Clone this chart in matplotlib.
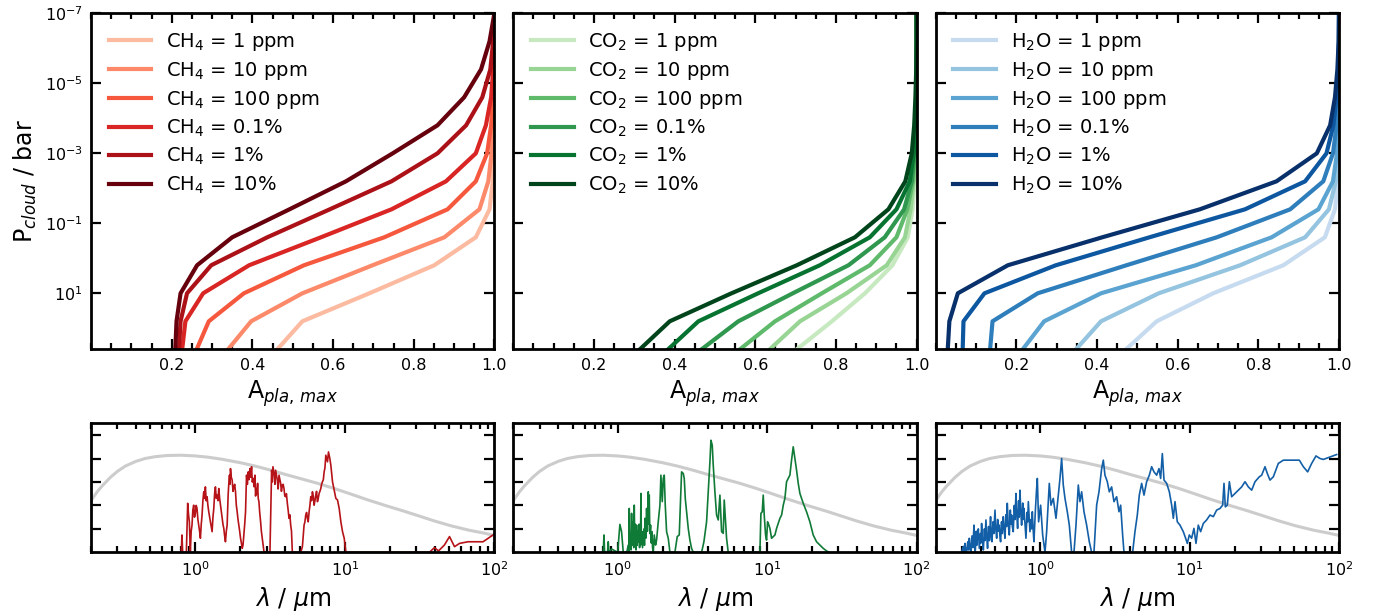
import numpy as np
import matplotlib
matplotlib.use('Agg')
import matplotlib.pyplot as plt
from matplotlib.ticker import FixedLocator, NullLocator, NullFormatter, MultipleLocator, LogLocator

# Cloud-top pressure grid (bar), shared by all curves
pressure = [398, 63.1, 10.0, 1.58, 0.251, 0.0398, 6.31e-3, 1.0e-3,
            1.58e-4, 2.51e-5, 3.98e-6, 6.31e-7, 1.0e-7]

abund_labels = ['1 ppm', '10 ppm', '100 ppm', '0.1%', '1%', '10%']

# Maximum planetary albedo at each pressure level (1 ppm ... 10%)
ch4_albedo = [
    [0.462, 0.524, 0.690, 0.851, 0.954, 0.988, 0.996, 0.998, 0.999, 1.0, 1.0, 1.0, 1.0],
    [0.340, 0.397, 0.524, 0.698, 0.876, 0.963, 0.985, 0.993, 0.998, 0.999, 1.0, 1.0, 1.0],
    [0.262, 0.292, 0.379, 0.528, 0.727, 0.884, 0.954, 0.982, 0.992, 0.997, 0.999, 1.0, 1.0],
    [0.226, 0.234, 0.278, 0.392, 0.570, 0.745, 0.880, 0.954, 0.979, 0.992, 0.997, 0.999, 1.0],
    [0.218, 0.222, 0.238, 0.298, 0.437, 0.592, 0.745, 0.859, 0.930, 0.970, 0.990, 0.997, 1.0],
    [0.209, 0.212, 0.222, 0.263, 0.350, 0.492, 0.632, 0.748, 0.859, 0.925, 0.967, 0.988, 1.0],
]
co2_albedo = [
    [0.703, 0.790, 0.872, 0.940, 0.978, 0.990, 0.995, 0.998, 0.999, 1.0, 1.0, 1.0, 1.0],
    [0.636, 0.711, 0.826, 0.926, 0.971, 0.985, 0.993, 0.997, 0.999, 1.0, 1.0, 1.0, 1.0],
    [0.562, 0.649, 0.765, 0.884, 0.950, 0.977, 0.991, 0.996, 0.998, 0.999, 1.0, 1.0, 1.0],
    [0.467, 0.558, 0.693, 0.831, 0.921, 0.969, 0.988, 0.995, 0.998, 0.999, 1.0, 1.0, 1.0],
    [0.384, 0.459, 0.607, 0.760, 0.884, 0.950, 0.983, 0.993, 0.997, 0.999, 1.0, 1.0, 1.0],
    [0.314, 0.388, 0.541, 0.703, 0.847, 0.930, 0.972, 0.988, 0.994, 0.997, 0.999, 1.0, 1.0],
]
h2o_albedo = [
    [0.472, 0.548, 0.688, 0.862, 0.965, 0.990, 0.997, 0.999, 1.0, 1.0, 1.0, 1.0, 1.0],
    [0.348, 0.410, 0.553, 0.755, 0.916, 0.975, 0.992, 0.997, 0.999, 1.0, 1.0, 1.0, 1.0],
    [0.216, 0.269, 0.410, 0.645, 0.833, 0.949, 0.985, 0.995, 0.998, 1.0, 1.0, 1.0, 1.0],
    [0.135, 0.141, 0.253, 0.473, 0.697, 0.879, 0.961, 0.985, 0.994, 0.998, 1.0, 1.0, 1.0],
    [0.067, 0.069, 0.121, 0.298, 0.530, 0.767, 0.916, 0.969, 0.986, 0.994, 0.998, 1.0, 1.0],
    [0.030, 0.034, 0.055, 0.179, 0.413, 0.655, 0.845, 0.945, 0.978, 0.990, 0.996, 0.999, 1.0],
]

# Stellar spectrum (arbitrary units), same in every lower panel
star_wl = [0.2, 0.21, 0.22, 0.235, 0.25, 0.27, 0.3, 0.34, 0.4, 0.46, 0.54, 0.65,
           0.8, 1.0, 1.2, 1.5, 2.0, 2.5, 3.2, 4.0, 5.0, 6.5, 8.5, 11, 14, 19,
           25, 32, 40, 52, 68, 85, 100]
star_flux = [2.2, 2.4, 2.58, 2.8, 2.98, 3.2, 3.45, 3.68, 3.88, 4.0, 4.08, 4.13,
             4.14, 4.11, 4.06, 3.97, 3.82, 3.68, 3.5, 3.32, 3.15, 2.95, 2.72, 2.48,
             2.25, 1.98, 1.75, 1.53, 1.33, 1.12, 0.94, 0.82, 0.72]

# Absorption spectra: (wavelength in um, arbitrary units)
ch4_spec = [
    (0.804, 0.0), (0.812, 0.74), (0.821, 0.0), (0.869, 0.0), (0.887, 2.09),
    (0.899, 1.6), (0.910, 1.30), (0.924, 0.03), (0.936, 0.9), (0.948, 1.16),
    (0.960, 1.8), (0.973, 2.01), (0.985, 1.5), (0.998, 1.66), (1.011, 2.0),
    (1.024, 1.87), (1.038, 1.4), (1.051, 1.16), (1.065, 0.9), (1.079, 0.60),
    (1.093, 1.2), (1.107, 1.59), (1.121, 2.2), (1.136, 2.58), (1.150, 2.3),
    (1.165, 2.79), (1.180, 2.2), (1.196, 2.37), (1.211, 2.0), (1.227, 1.73),
    (1.243, 1.5), (1.259, 1.30), (1.275, 1.1), (1.292, 0.88), (1.309, 1.5),
    (1.326, 1.87), (1.343, 2.5), (1.360, 2.79), (1.378, 2.3), (1.396, 2.44),
    (1.414, 2.2), (1.432, 2.72), (1.451, 2.3), (1.470, 2.01), (1.489, 1.7),
    (1.508, 1.45), (1.527, 1.2), (1.547, 1.02), (1.567, 0.7), (1.587, 0.45),
    (1.608, 0.9), (1.629, 1.16), (1.654, 2.44), (1.670, 2.9), (1.689, 3.29),
    (1.700, 2.9), (1.715, 3.57), (1.737, 3.2), (1.760, 3.08), (1.783, 2.6),
    (1.806, 2.79), (1.830, 2.9), (1.853, 2.58), (1.877, 2.0), (1.901, 1.73),
    (1.926, 1.4), (1.951, 1.16), (1.976, 0.9), (2.002, 0.60), (2.028, 0.4),
    (2.054, 0.17), (2.080, 0.3), (2.108, 0.74), (2.135, 1.2), (2.163, 1.73),
    (2.196, 3.29), (2.225, 2.9), (2.254, 3.43), (2.283, 3.1), (2.313, 3.57),
    (2.343, 3.2), (2.373, 3.65), (2.400, 3.0), (2.435, 3.15), (2.465, 2.8),
    (2.498, 3.29), (2.525, 2.4), (2.550, 2.72), (2.578, 2.5), (2.604, 2.94),
    (2.630, 2.3), (2.658, 2.16), (2.690, 1.7), (2.728, 1.30), (2.760, 0.9),
    (2.799, 0.60), (2.835, 0.3), (2.872, 0.03), (2.947, 0.0), (3.150, 0.0),
    (3.232, 3.50), (3.265, 3.0), (3.300, 3.65), (3.335, 3.45), (3.369, 3.29),
    (3.400, 2.9), (3.439, 3.50), (3.480, 3.3), (3.529, 3.08), (3.575, 2.7),
    (3.621, 3.29), (3.670, 3.1), (3.715, 2.94), (3.760, 2.6), (3.812, 2.87),
    (3.860, 2.9), (3.911, 2.72), (3.960, 2.4), (4.013, 2.37), (4.060, 2.5),
    (4.118, 2.09), (4.170, 1.8), (4.225, 1.45), (4.280, 1.6), (4.336, 1.16),
    (4.390, 0.9), (4.449, 0.0), (5.062, 0.0), (5.193, 0.24), (5.329, 1.16),
    (5.400, 1.3), (5.468, 1.59), (5.540, 1.7), (5.610, 1.45), (5.680, 1.3),
    (5.759, 1.73), (5.830, 2.0), (5.908, 2.37), (5.980, 2.2), (6.062, 2.58),
    (6.140, 2.4), (6.220, 2.01), (6.300, 2.2), (6.383, 2.44), (6.460, 2.6),
    (6.549, 2.16), (6.630, 2.3), (6.720, 2.51), (6.800, 2.6), (6.895, 2.72),
    (6.980, 2.9), (7.075, 3.01), (7.170, 3.1), (7.260, 3.43), (7.350, 3.6),
    (7.449, 4.14), (7.644, 3.86), (7.762, 4.28), (7.925, 4.00), (8.048, 3.72),
    (8.258, 3.01), (8.474, 2.65), (8.695, 2.30), (8.923, 2.23), (9.155, 1.87),
    (9.394, 1.30), (9.639, 0.88), (9.890, 0.60), (10.15, 0.0), (36.8, 0.0),
    (39.7, 0.20), (42.3, 0.06), (46.3, 0.31), (50.1, 0.67), (54.1, 0.24),
    (58.5, 0.38), (66.5, 0.45), (84.0, 0.45), (99.5, 0.77),
]

co2_spec = [
    (0.800, 0.0), (0.809, 0.74), (0.817, 0.0), (0.855, 0.0), (0.864, 0.45),
    (0.873, 0.0), (0.910, 0.14), (1.000, 0.0), (1.008, 0.31), (1.034, 1.19),
    (1.061, 0.88), (1.089, 0.0), (1.150, 0.0), (1.175, 0.3), (1.185, 0.0),
    (1.194, 1.87), (1.205, 0.2), (1.219, 0.60), (1.228, 0.1), (1.238, 1.66),
    (1.250, 0.3), (1.260, 0.9), (1.270, 1.30), (1.280, 0.2), (1.290, 2.01),
    (1.300, 0.4), (1.310, 1.2), (1.317, 0.74), (1.327, 0.1), (1.337, 1.16),
    (1.350, 0.3), (1.360, 0.9), (1.372, 0.45), (1.390, 1.2), (1.400, 0.2),
    (1.408, 0.74), (1.420, 0.3), (1.430, 2.51), (1.440, 0.5), (1.452, 0.88),
    (1.465, 0.2), (1.482, 0.60), (1.500, 1.0), (1.510, 0.3), (1.521, 1.45),
    (1.540, 0.6), (1.560, 1.87), (1.580, 0.9), (1.601, 2.58), (1.612, 1.2),
    (1.625, 2.44), (1.640, 0.8), (1.659, 1.16), (1.675, 0.4), (1.694, 0.88),
    (1.710, 0.2), (1.729, 0.0), (1.756, 0.74), (1.792, 0.31), (1.820, 0.52),
    (1.867, 1.30), (1.916, 2.01), (1.945, 3.29), (1.986, 2.16), (2.017, 3.15),
    (2.048, 3.29), (2.080, 2.01), (2.123, 0.88), (2.178, 0.60), (2.235, 0.0),
    (2.413, 0.0), (2.502, 0.67), (2.580, 0.74), (2.634, 2.30), (2.675, 3.43),
    (2.745, 3.36), (2.787, 3.15), (2.831, 2.30), (2.888, 1.73), (2.964, 1.02),
    (3.041, 0.52), (3.120, 0.17), (3.201, 0.0), (3.640, 0.0), (3.773, 0.45),
    (3.931, 1.30), (4.034, 2.58), (4.139, 3.86), (4.204, 4.78), (4.290, 4.57),
    (4.356, 3.72), (4.470, 2.58), (4.586, 1.59), (4.706, 1.38), (4.828, 2.44),
    (4.955, 0.88), (5.082, 0.81), (5.161, 2.23), (5.267, 1.30), (5.349, 0.60),
    (5.488, 0.0), (8.941, 0.0), (9.080, 1.66), (9.268, 1.73), (9.410, 2.44),
    (9.557, 1.59), (9.755, 0.74), (9.906, 0.52), (10.06, 1.30), (10.27, 1.16),
    (10.43, 1.02), (10.70, 0.60), (10.98, 0.67), (11.27, 0.74), (11.56, 1.02),
    (11.86, 1.23), (12.17, 1.45), (12.49, 1.59), (12.81, 2.01), (13.14, 2.30),
    (13.48, 3.01), (13.83, 3.15), (14.19, 3.29), (14.56, 3.93), (14.94, 4.50),
    (15.33, 4.00), (15.73, 3.50), (16.14, 2.94), (16.56, 2.51), (17.43, 2.09),
    (18.34, 1.73), (19.31, 1.30), (20.32, 0.74), (21.40, 0.45), (22.52, 0.31),
    (23.71, 0.17), (24.96, 0.06), (26.01, 0.0),
]

h2o_spec = [
    (0.298, 0.0), (0.306, 0.25), (0.310, 0.0), (0.314, 0.38), (0.318, 0.05),
    (0.322, 0.0), (0.328, 0.45), (0.332, 0.1), (0.336, 0.60), (0.340, 0.15),
    (0.344, 0.0), (0.350, 0.7), (0.355, 0.2), (0.361, 1.16), (0.364, 0.3),
    (0.368, 0.0), (0.374, 0.9), (0.377, 0.3), (0.380, 0.60), (0.386, 1.0),
    (0.392, 0.17), (0.399, 0.8), (0.402, 0.4), (0.406, 1.23), (0.411, 0.5),
    (0.417, 0.10), (0.424, 1.0), (0.428, 0.5), (0.434, 1.38), (0.440, 0.6),
    (0.445, 0.17), (0.452, 1.1), (0.458, 0.5), (0.466, 1.52), (0.471, 0.7),
    (0.476, 0.45), (0.484, 1.3), (0.490, 0.8), (0.499, 1.80), (0.505, 1.0),
    (0.512, 0.60), (0.520, 1.4), (0.526, 0.9), (0.533, 1.16), (0.538, 0.7),
    (0.544, 0.45), (0.552, 1.3), (0.558, 0.8), (0.567, 1.52), (0.574, 1.0),
    (0.582, 0.60), (0.590, 1.6), (0.596, 1.1), (0.603, 2.09), (0.612, 1.2),
    (0.622, 0.74), (0.632, 1.8), (0.638, 1.2), (0.645, 1.59), (0.652, 1.1),
    (0.661, 0.88), (0.672, 2.0), (0.680, 1.4), (0.689, 2.51), (0.698, 1.6),
    (0.707, 1.02), (0.718, 2.2), (0.725, 1.5), (0.733, 2.65), (0.742, 1.8),
    (0.752, 1.16), (0.765, 2.1), (0.772, 1.4), (0.780, 1.87), (0.792, 1.2),
    (0.804, 0.60), (0.818, 1.7), (0.826, 1.3), (0.834, 2.16), (0.845, 1.5),
    (0.855, 0.88), (0.870, 1.4), (0.878, 1.0), (0.887, 1.73), (0.898, 1.0),
    (0.909, 0.45), (0.930, 1.8), (0.945, 2.6), (0.958, 3.15), (0.977, 1.30),
    (1.008, 2.01), (1.040, 0.74), (1.078, 0.0), (1.106, 0.88), (1.152, 2.94),
    (1.182, 2.01), (1.225, 2.30), (1.277, 1.45), (1.324, 2.44), (1.358, 3.15),
    (1.393, 4.00), (1.429, 2.87), (1.467, 2.30), (1.520, 1.73), (1.568, 1.16),
    (1.625, 0.0), (1.685, 0.0), (1.738, 1.16), (1.801, 2.87), (1.848, 2.16),
    (1.896, 2.58), (1.966, 1.73), (2.048, 1.16), (2.134, 0.45), (2.212, 0.0),
    (2.293, 0.0), (2.389, 2.01), (2.477, 2.58), (2.581, 3.57), (2.648, 3.93),
    (2.716, 3.29), (2.816, 3.01), (2.904, 2.58), (3.010, 2.79), (3.120, 2.16),
    (3.251, 2.37), (3.371, 1.73), (3.459, 2.01), (3.566, 0.74), (3.641, 0.0),
    (4.160, 0.0), (4.312, 0.88), (4.471, 1.59), (4.610, 2.44), (4.780, 2.94),
    (4.955, 2.44), (5.163, 3.01), (5.381, 3.29), (5.577, 3.65), (5.781, 3.43),
    (6.023, 3.29), (6.244, 3.57), (6.406, 3.15), (6.573, 4.21), (6.745, 3.08),
    (7.028, 2.94), (7.323, 2.58), (7.591, 2.01), (7.788, 1.45), (7.991, 2.16),
    (8.279, 1.30), (8.627, 1.16), (9.081, 0.88), (9.414, 0.60), (9.659, 0.38),
    (9.961, 0.74), (10.32, 0.60), (10.70, 1.02), (11.04, 0.38), (11.44, 1.16),
    (11.86, 0.88), (12.36, 1.23), (13.01, 1.38), (13.70, 1.59), (14.42, 1.52),
    (15.18, 1.80), (15.98, 1.87), (16.65, 2.01), (17.00, 2.94), (17.35, 1.94),
    (17.89, 2.01), (18.46, 3.01), (19.13, 2.37), (20.14, 2.51), (21.20, 2.65),
    (22.32, 2.79), (23.50, 3.01), (24.73, 2.79), (26.04, 2.65), (27.41, 3.01),
    (29.30, 3.22), (30.38, 3.29), (31.98, 3.65), (33.14, 3.36), (34.53, 3.08),
    (36.35, 3.22), (39.26, 3.79), (42.42, 3.93), (46.99, 3.93), (54.27, 3.93),
    (57.71, 3.65), (61.69, 3.43), (65.61, 3.79), (70.15, 4.11), (74.61, 4.00),
    (78.53, 3.96), (84.82, 4.04), (96.45, 4.17),
]

panels = [
    ('CH$_4$', ch4_albedo, ch4_spec, plt.cm.Reds),
    ('CO$_2$', co2_albedo, co2_spec, plt.cm.Greens),
    ('H$_2$O', h2o_albedo, h2o_spec, plt.cm.Blues),
]

fig = plt.figure(figsize=(13.79, 6.13), dpi=100)

lefts = [0.066, 0.3722, 0.6785]
width = 0.2925


def style_axis(ax):
    for sp in ax.spines.values():
        sp.set_linewidth(2)
    ax.tick_params(which='both', direction='in', top=True, right=True,
                   width=1.6, labelsize=11.5, pad=6)
    ax.tick_params(which='major', length=7)
    ax.tick_params(which='minor', length=4)


for i, (gas, albedo, spec, cmap) in enumerate(panels):
    colors = cmap(np.linspace(0.25, 1.0, 6))

    # Upper panel: cloud pressure vs max albedo
    ax = fig.add_axes([lefts[i], 0.4302, width, 0.548])
    for j, curve in enumerate(albedo):
        ax.plot(curve, pressure, color=colors[j], lw=3,
                label=gas + ' = ' + abund_labels[j])
    ax.set_yscale('log')
    ax.set_ylim(10 ** 2.6, 1e-7)
    ax.set_xlim(0, 1)
    ax.yaxis.set_major_locator(FixedLocator([1e-7, 1e-5, 1e-3, 1e-1, 1e1]))
    ax.yaxis.set_minor_locator(NullLocator())
    ax.xaxis.set_major_locator(FixedLocator([0.2, 0.4, 0.6, 0.8, 1.0]))
    ax.xaxis.set_minor_locator(MultipleLocator(0.05))
    style_axis(ax)
    ax.set_xlabel(r'A$_{pla,\,max}$', fontsize=17)
    if i == 0:
        ax.set_ylabel(r'P$_{cloud}$ / bar', fontsize=17)
    else:
        ax.yaxis.set_major_formatter(NullFormatter())
    ax.legend(loc='upper left', frameon=False, fontsize=14, handlelength=2.2,
              handletextpad=0.75, labelspacing=0.36, borderaxespad=0.5)

    # Lower panel: absorption spectrum over the stellar spectrum
    wl, flux = np.array(spec).T
    bx = fig.add_axes([lefts[i], 0.099, width, 0.2104])
    bx.plot(star_wl, star_flux, color='#cccccc', lw=2.2)
    bx.plot(wl, flux, color=cmap(0.82), lw=1.2)
    bx.set_xscale('log')
    bx.set_xlim(0.2, 100)
    bx.set_ylim(0, 5.5)
    bx.xaxis.set_major_locator(LogLocator(base=10))
    bx.xaxis.set_minor_locator(LogLocator(base=10, subs=np.arange(2, 10)))
    bx.xaxis.set_minor_formatter(NullFormatter())
    bx.yaxis.set_major_locator(FixedLocator([1, 2, 3, 4, 5]))
    bx.yaxis.set_major_formatter(NullFormatter())
    style_axis(bx)
    bx.set_xlabel(r'$\lambda$ / $\mu$m', fontsize=17)

plt.savefig('out.png', dpi=100)
